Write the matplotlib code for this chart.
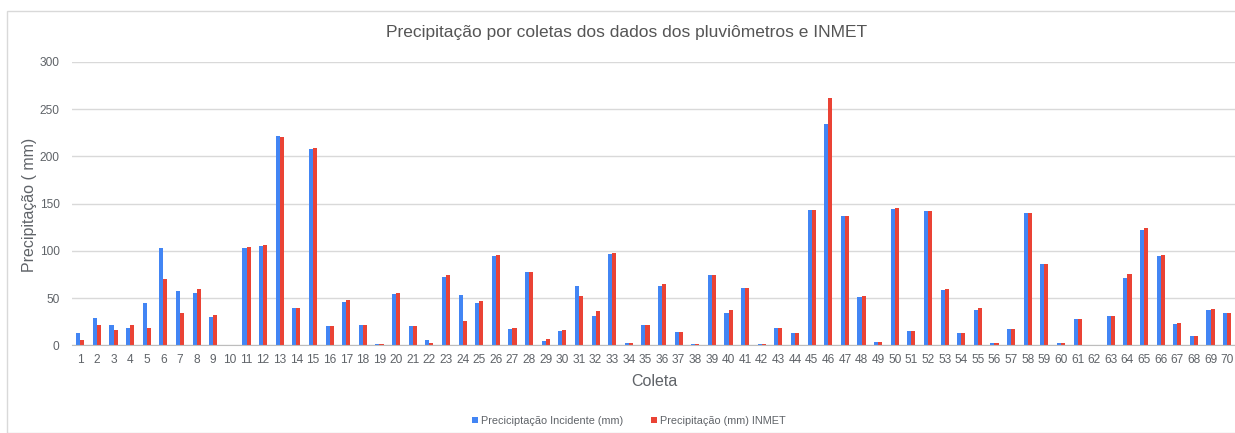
import matplotlib
matplotlib.use("Agg")
import matplotlib.pyplot as plt
import numpy as np
from matplotlib.patches import Rectangle

categories = [str(i) for i in range(1, 71)]
incidente = [13.4, 29, 21.5, 18.7, 45, 103, 58, 55, 30, 0,
             103, 105, 222, 39.5, 208, 20, 46, 21, 1, 54,
             20, 6, 72, 53, 45, 94.6, 17.6, 78, 4.6, 15.5,
             62.5, 31, 96.7, 2.2, 22, 62.5, 14.5, 1, 74, 34.6,
             61, 1, 18.4, 13, 143.3, 234, 137, 51, 4, 144.7,
             15, 142, 59, 12.7, 37.4, 2.5, 17, 140, 86, 2.5,
             28, 0, 31.4, 71.7, 121.8, 94.6, 22.6, 10, 37.4, 34.6]
inmet = [6, 21, 16.6, 21.5, 18.7, 70, 34, 60, 32.5, 0,
         104.5, 106, 221, 40, 209, 20.5, 47.5, 21, 1, 55.5,
         20, 2.5, 74, 26, 47, 95.3, 18.4, 78, 6.7, 16.2,
         52.6, 36, 98, 2.2, 22, 64.6, 14.5, 1, 74, 37,
         61, 1.5, 18.4, 13, 143.3, 261.6, 137, 52, 4, 145.4,
         15, 142, 59.7, 12.7, 39, 2.5, 17.6, 140, 86, 2.5,
         28, 0, 31.4, 75, 124, 95.3, 23.3, 10, 38, 34.6]
yticks = [0, 50, 100, 150, 200, 250, 300]

plt.rcParams['font.family'] = ['Liberation Sans', 'DejaVu Sans']
TXT = '#5f6368'

W, H = 1235, 433
fig = plt.figure(figsize=(W / 100, H / 100), dpi=100)
fig.patch.set_facecolor('white')
# outer border
fig.add_artist(Rectangle((7 / W, 0), 1.2, 1 - 11 / H, transform=fig.transFigure,
                         fill=False, edgecolor='#d9d9d9', linewidth=1))

ax = fig.add_axes([72 / W, 1 - 345.3 / H, (1235.5 - 72) / W, (345.3 - 62) / H])
x = np.arange(len(categories))
w = 0.245
ax.bar(x - w / 2, incidente, width=w, color='#4285F4', label='Preciciptação Incidente (mm)', zorder=3)
ax.bar(x + w / 2, inmet, width=w, color='#EA4335', label='Precipitação (mm) INMET', zorder=3)

ax.set_xlim(-0.5, len(categories) - 0.5)
ax.set_ylim(0, 300)
ax.set_yticks(yticks)
ax.set_xticks(x)
ax.set_xticklabels(categories)
ax.grid(axis='y', color='#d9d9d9', linewidth=1, zorder=0)
for s in ['top', 'right', 'left']:
    ax.spines[s].set_visible(False)
ax.spines['bottom'].set_color('#bdbdbd')
ax.spines['bottom'].set_zorder(4)
ax.tick_params(axis='both', length=0, colors=TXT, labelsize=8.6)
ax.tick_params(axis='y', pad=9)
ax.tick_params(axis='x', pad=6)

fig.text(627 / W, 1 - 32 / H, 'Precipitação por coletas dos dados dos pluviômetros e INMET',
         ha='center', va='center', fontsize=12.5, color='#555555')
fig.text(30 / W, 1 - 205 / H, 'Precipitação ( mm)', rotation=90, ha='center', va='center',
         fontsize=11.5, color=TXT)
fig.text(654 / W, 1 - 382 / H, 'Coleta', ha='center', va='center', fontsize=11.5, color=TXT)

leg = fig.legend(loc='center', bbox_to_anchor=(629 / W, 1 - 421 / H), ncol=2, frameon=False,
                 fontsize=7.8, handlelength=0.55, handleheight=0.55, handletextpad=0.3,
                 columnspacing=2.6, labelcolor=TXT)

fig.savefig('out.png', dpi=100)
